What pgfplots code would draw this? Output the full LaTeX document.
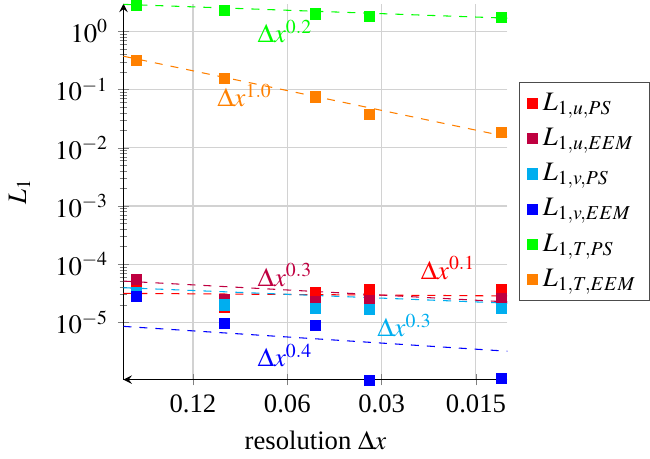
\documentclass[border=0pt]{standalone}
\usepackage{mathptmx}
\usepackage{fontspec}
\setmainfont{Liberation Serif}
\usepackage{pgfplots}
\pgfplotsset{compat=1.18}

\definecolor{cRed}{RGB}{255,0,0}
\definecolor{cCrim}{RGB}{191,0,64}
\definecolor{cCyan}{RGB}{0,174,239}
\definecolor{cBlue}{RGB}{0,0,255}
\definecolor{cGreen}{RGB}{0,255,0}
\definecolor{cOrange}{RGB}{255,128,0}

\pgfplotsset{
  pts/.style={only marks, mark=square*, mark size=1.9pt, color=#1, mark options={fill=#1, draw=#1}},
  fit/.style={dashed, thin, color=#1, forget plot},
}

\begin{document}
\begin{tikzpicture}
\begin{axis}[
    scale only axis,
    width=144pt, height=141pt,
    xmode=log, ymode=log,
    x dir=reverse,
    axis lines=left,
    xmin=0.0119, xmax=0.2,
    ymin=1.04e-6, ymax=3.0,
    xtick={0.12,0.06,0.03,0.015},
    xticklabels={0.12,0.06,0.03,0.015},
    xminorticks=false,
    ytick={1e-5,1e-4,1e-3,1e-2,1e-1,1},
    grid=major,
    major grid style={gray!35},
    xlabel={resolution $\Delta x$},
    ylabel={$L_1$},
    ylabel style={yshift=2.5pt},
    legend style={at={(1.03,0.5)}, anchor=west, draw=black!70, font=\normalsize, row sep=1.2pt, inner xsep=3pt},
    legend cell align=left,
    clip=false,
  ]
  % measured errors
  \addplot[pts=cRed] coordinates {(0.182,4.93e-5) (0.095,1.80e-5) (0.0488,3.25e-5) (0.0328,3.6e-5) (0.0124,3.7e-5)};
  \addlegendentry{$L_{1,u,PS}$}
  \addplot[pts=cCrim] coordinates {(0.182,5.51e-5) (0.095,2.51e-5) (0.0488,2.3e-5) (0.0328,2.36e-5) (0.0124,2.55e-5)};
  \addlegendentry{$L_{1,u,EEM}$}
  \addplot[pts=cCyan] coordinates {(0.182,3.31e-5) (0.095,2.0e-5) (0.0488,1.75e-5) (0.0328,1.69e-5) (0.0124,1.71e-5)};
  \addlegendentry{$L_{1,v,PS}$}
  \addplot[pts=cBlue] coordinates {(0.182,2.77e-5) (0.095,9.6e-6) (0.0488,8.9e-6) (0.0328,1.01e-6) (0.0124,1.08e-6)};
  \addlegendentry{$L_{1,v,EEM}$}
  \addplot[pts=cGreen] coordinates {(0.182,2.84) (0.095,2.28) (0.0488,2.0) (0.0328,1.80) (0.0124,1.71)};
  \addlegendentry{$L_{1,T,PS}$}
  \addplot[pts=cOrange] coordinates {(0.182,0.321) (0.095,0.154) (0.0488,0.075) (0.0328,0.037) (0.0124,0.0185)};
  \addlegendentry{$L_{1,T,EEM}$}

  % fitted slopes
  \addplot[fit=cRed] coordinates {(0.2,3.16e-5) (0.0119,2.85e-5)};
  \addplot[fit=cCrim] coordinates {(0.2,5.13e-5) (0.0119,2.25e-5)};
  \addplot[fit=cCyan] coordinates {(0.2,3.95e-5) (0.0119,2.14e-5)};
  \addplot[fit=cBlue] coordinates {(0.2,8.55e-6) (0.0119,3.2e-6)};
  \addplot[fit=cGreen] coordinates {(0.2,2.92) (0.0119,1.69)};
  \addplot[fit=cOrange] coordinates {(0.2,0.375) (0.0119,0.0155)};

  \node[text=cGreen] at (axis cs:0.061,1.0) {$\Delta x^{0.2}$};
  \node[text=cOrange] at (axis cs:0.082,0.079) {$\Delta x^{1.0}$};
  \node[text=cCrim] at (axis cs:0.061,6.5e-5) {$\Delta x^{0.3}$};
  \node[text=cRed] at (axis cs:0.0184,8.5e-5) {$\Delta x^{0.1}$};
  \node[text=cCyan] at (axis cs:0.0253,8.8e-6) {$\Delta x^{0.3}$};
  \node[text=cBlue] at (axis cs:0.061,2.7e-6) {$\Delta x^{0.4}$};
\end{axis}
\end{tikzpicture}
\end{document}
